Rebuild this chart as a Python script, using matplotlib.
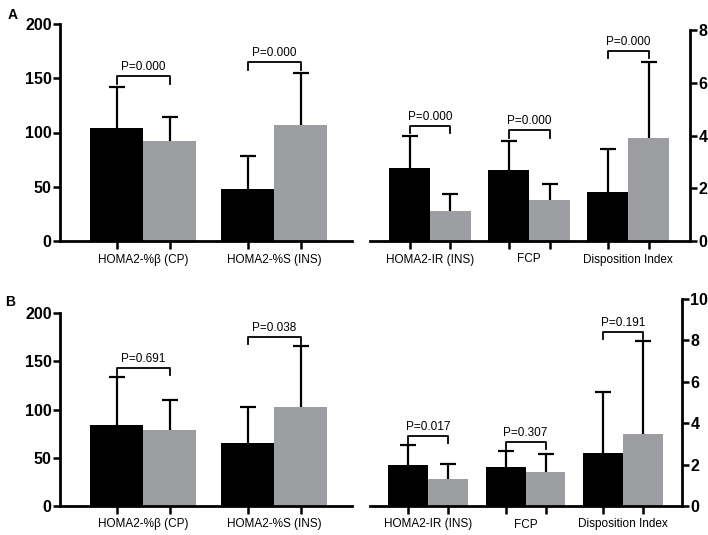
import matplotlib
matplotlib.use("Agg")
import matplotlib.pyplot as plt
import numpy as np

plt.rcParams['font.family'] = ['Liberation Sans', 'DejaVu Sans']

# ---- data ----
left_cats = ["HOMA2-%β (CP)", "HOMA2-%S (INS)"]
right_cats = ["HOMA2-IR (INS)", "FCP", "Disposition Index"]

A_left_black = [104, 48]
A_left_black_sd = [38, 30]
A_left_gray = [92, 107]
A_left_gray_sd = [22, 48]
A_left_p = ["P=0.000", "P=0.000"]
A_left_br = [152, 165]

A_right_black = [2.77, 2.69, 1.86]
A_right_black_sd = [1.21, 1.10, 1.62]
A_right_gray = [1.14, 1.55, 3.90]
A_right_gray_sd = [0.64, 0.61, 2.88]
A_right_p = ["P=0.000", "P=0.000", "P=0.000"]
A_right_br = [4.36, 4.20, 7.20]

B_left_black = [84, 65]
B_left_black_sd = [50, 38]
B_left_gray = [79, 103]
B_left_gray_sd = [31, 63]
B_left_p = ["P=0.691", "P=0.038"]
B_left_br = [143, 175]

B_right_black = [1.98, 1.88, 2.56]
B_right_black_sd = [0.97, 0.78, 2.94]
B_right_gray = [1.30, 1.64, 3.48]
B_right_gray_sd = [0.73, 0.87, 4.49]
B_right_p = ["P=0.017", "P=0.307", "P=0.191"]
B_right_br = [3.38, 3.09, 8.40]

BLACK = "#000000"
GRAY = "#9d9ea2"

W, H = 708, 535
fig = plt.figure(figsize=(W / 100, H / 100), dpi=100)


def px_axes(x0, x1, ytop, ybot):
    return fig.add_axes([x0 / W, (H - ybot) / H, (x1 - x0) / W, (ybot - ytop) / H])


def draw(ax, cats, black, bsd, gray, gsd, plabels, brs, ylim, yticks, xlim, bw, side):
    n = len(cats)
    x = np.arange(1, n + 1)
    xb = x - bw / 2
    xg = x + bw / 2
    ax.bar(xb, black, width=bw, color=BLACK, zorder=2)
    ax.bar(xg, gray, width=bw, color=GRAY, zorder=2)
    for xs, m, sd in ((xb, black, bsd), (xg, gray, gsd)):
        _, caps, _ = ax.errorbar(xs, m, yerr=[np.zeros(n), sd], fmt='none', ecolor='black',
                                 elinewidth=1.6, capsize=5.5, capthick=1.6, zorder=1)
        caps[0].set_visible(False)
    leg = 0.035 * ylim[1]
    for i in range(n):
        ax.plot([xb[i], xb[i], xg[i], xg[i]], [brs[i] - leg, brs[i], brs[i], brs[i] - leg],
                color='black', lw=1.3, clip_on=False, zorder=3)
        ax.annotate(plabels[i], (x[i], brs[i]), xytext=(0, 2), textcoords='offset points',
                    ha='center', va='bottom', fontsize=8.5)
    ax.set_xlim(*xlim)
    ax.set_ylim(*ylim)
    ax.set_xticks(np.concatenate([xb, xg]))
    ax.set_xticklabels([])
    ax.set_xticks(x, minor=True)
    ax.set_xticklabels(cats, minor=True, fontsize=8.5)
    ax.tick_params(axis='x', which='major', length=6, width=1.8, direction='out')
    ax.tick_params(axis='x', which='minor', length=0, pad=9)
    ax.set_yticks(yticks)
    ax.set_yticklabels([str(t) for t in yticks], fontsize=11.5, fontweight='bold')
    ax.tick_params(axis='y', length=5, width=1.8, direction='out', pad=1)
    for s in ax.spines.values():
        s.set_linewidth(2.0)
    ax.spines['top'].set_visible(False)
    if side == 'left':
        ax.spines['right'].set_visible(False)
    else:
        ax.spines['left'].set_visible(False)
        ax.yaxis.tick_right()
    ax.patch.set_alpha(0)


axAL = px_axes(60, 352, 24, 241)
draw(axAL, left_cats, A_left_black, A_left_black_sd, A_left_gray, A_left_gray_sd,
     A_left_p, A_left_br, (0, 200), [0, 50, 100, 150, 200], (0.366, 2.595), 0.405, 'left')
axAR = px_axes(370, 690, 30, 241)
draw(axAR, right_cats, A_right_black, A_right_black_sd, A_right_gray, A_right_gray_sd,
     A_right_p, A_right_br, (0, 8), [0, 2, 4, 6, 8], (0.394, 3.626), 0.414, 'right')
axBL = px_axes(60, 352, 313, 506)
draw(axBL, left_cats, B_left_black, B_left_black_sd, B_left_gray, B_left_gray_sd,
     B_left_p, B_left_br, (0, 200), [0, 50, 100, 150, 200], (0.366, 2.595), 0.405, 'left')
axBR = px_axes(370, 682, 299, 506)
draw(axBR, right_cats, B_right_black, B_right_black_sd, B_right_gray, B_right_gray_sd,
     B_right_p, B_right_br, (0, 10), [0, 2, 4, 6, 8, 10], (0.405, 3.605), 0.41, 'right')

fig.text(13 / W, 1 - 15 / H, "A", fontsize=10, fontweight='bold', ha='center', va='center')
fig.text(10 / W, 1 - 302 / H, "B", fontsize=10, fontweight='bold', ha='center', va='center')

fig.savefig("out.png", dpi=100)
